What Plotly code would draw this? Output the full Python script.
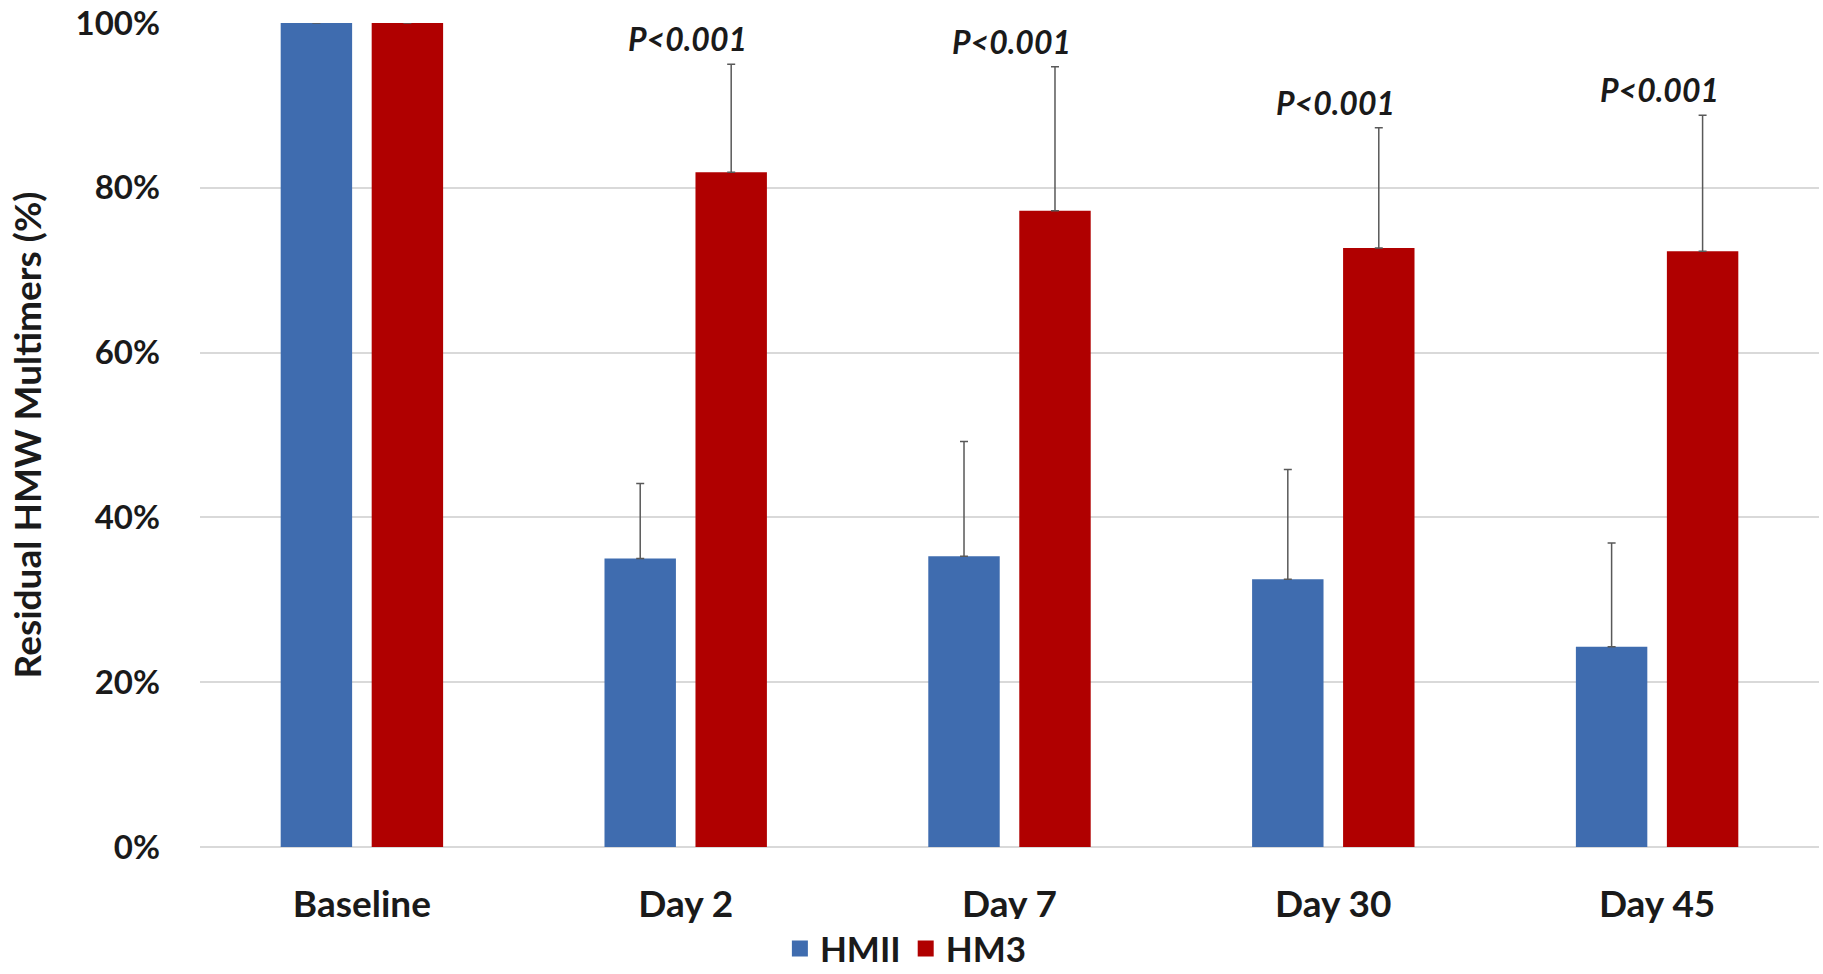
import plotly.graph_objects as go

categories = ["Baseline", "Day 2", "Day 7", "Day 30", "Day 45"]
hmii = [100, 35.0, 35.3, 32.5, 24.3]
hmii_err = [None, 9.1, 13.9, 13.3, 12.6]
hm3 = [100, 81.9, 77.2, 72.7, 72.3]
hm3_err = [None, 13.1, 17.5, 14.6, 16.5]
p_labels = ["", "P&lt;0.001", "P&lt;0.001", "P&lt;0.001", "P&lt;0.001"]
y_ticks = [0, 20, 40, 60, 80, 100]
y_tick_labels = ["0%", "20%", "40%", "60%", "80%", "100%"]
series_names = ["HMII", "HM3"]

FONT = "Lato"
BLUE = "#3F6CAF"
RED = "#B00000"
ERR = "#595959"
TXT = "#1a1a1a"

fig = go.Figure()
fig.add_trace(go.Bar(
    name=series_names[0], x=categories, y=hmii, showlegend=False,
    marker=dict(color=BLUE, line=dict(width=0)),
    error_y=dict(type="data", symmetric=False, array=hmii_err,
                 arrayminus=[0] * len(categories), color=ERR, thickness=1.5, width=4),
))
fig.add_trace(go.Bar(
    name=series_names[1], x=categories, y=hm3, showlegend=False,
    marker=dict(color=RED, line=dict(width=0)),
    error_y=dict(type="data", symmetric=False, array=hm3_err,
                 arrayminus=[0] * len(categories), color=ERR, thickness=1.5, width=4),
))
# legend entries with larger square swatches
for nm, col in zip(series_names, [BLUE, RED]):
    fig.add_trace(go.Scatter(
        name=nm, x=[None], y=[None], mode="markers",
        marker=dict(symbol="square", size=16, color=col), hoverinfo="skip",
    ))

for cat, v, e, lab in zip(categories, hm3, hm3_err, p_labels):
    if lab:
        fig.add_annotation(
            x=cat, y=v + e, xref="x", yref="y", text="<i>" + lab + "</i>",
            showarrow=False, yanchor="bottom", yshift=4, xshift=2,
            font=dict(family=FONT, size=32, color=TXT, weight="bold"),
        )

fig.update_layout(
    width=1823, height=974,
    margin=dict(l=200, r=4, t=23, b=127, autoexpand=False),
    paper_bgcolor="white", plot_bgcolor="white",
    barmode="group", bargap=0.438, bargroupgap=0.215,
    font=dict(family=FONT, color=TXT),
    legend=dict(orientation="h", x=0.436, xanchor="center",
                yref="container", y=0.026, yanchor="middle",
                font=dict(family=FONT, size=35, weight="bold", color=TXT),
                itemwidth=30, traceorder="normal", itemclick=False),
    showlegend=True,
)
fig.update_xaxes(
    showgrid=False, showline=False, zeroline=False,
    tickfont=dict(family=FONT, size=37, weight="bold", color=TXT),
    ticks="", ticklabelstandoff=32,
)
fig.update_yaxes(
    range=[0, 100], tickvals=y_ticks, ticktext=y_tick_labels,
    showgrid=True, gridcolor="#d9d9d9", gridwidth=1.5,
    zeroline=True, zerolinecolor="#d9d9d9", zerolinewidth=1.5,
    showline=False, ticks="", ticklabelstandoff=39,
    tickfont=dict(family=FONT, size=33, weight="bold", color=TXT),
    title=dict(text="Residual HMW Multimers (%)", standoff=22,
               font=dict(family=FONT, size=37, weight="bold", color=TXT)),
)

fig.write_html("out.html")
